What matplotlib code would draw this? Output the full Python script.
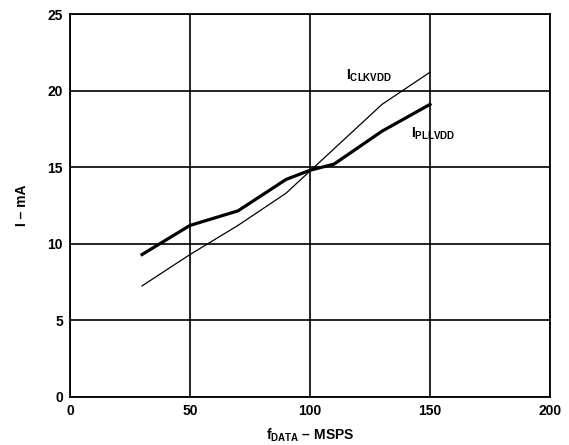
import matplotlib
matplotlib.use("Agg")
import matplotlib.pyplot as plt

plt.rcParams['font.family'] = ['Liberation Sans', 'DejaVu Sans']
plt.rcParams['font.weight'] = 'bold'
plt.rcParams['axes.labelweight'] = 'bold'
plt.rcParams['mathtext.fontset'] = 'custom'
plt.rcParams['mathtext.rm'] = 'Liberation Sans:bold'
plt.rcParams['mathtext.it'] = 'Liberation Sans:bold'
plt.rcParams['mathtext.bf'] = 'Liberation Sans:bold'
plt.rcParams['mathtext.sf'] = 'Liberation Sans:bold'

# data
f_pll = [30, 50, 70, 90, 100, 110, 130, 150]
i_pll = [9.3, 11.2, 12.15, 14.2, 14.8, 15.2, 17.35, 19.1]
f_clk = [30, 50, 70, 90, 110, 130, 150]
i_clk = [7.25, 9.3, 11.2, 13.3, 16.2, 19.1, 21.2]

fig = plt.figure(figsize=(5.69, 4.45), dpi=100)
ax = fig.add_axes([70 / 569, 48 / 445, 480 / 569, 383 / 445])

ax.plot(f_clk, i_clk, color='black', linewidth=0.9)
ax.plot(f_pll, i_pll, color='black', linewidth=2.3)

ax.set_xlim(0, 200)
ax.set_ylim(0, 25)
ax.set_xticks([0, 50, 100, 150, 200])
ax.set_yticks([0, 5, 10, 15, 20, 25])
ax.grid(True, color='black', linewidth=1.2)
for s in ax.spines.values():
    s.set_linewidth(1.3)
ax.tick_params(length=0, labelsize=10, pad=5)

ax.text(115, 20.7, r"I$_{\mathrm{CLKVDD}}$", fontsize=10)
ax.text(142, 16.9, r"I$_{\mathrm{PLLVDD}}$", fontsize=10)

ax.set_xlabel(r"f$_{\mathrm{DATA}}$ – MSPS", fontsize=10, labelpad=6)
ax.set_ylabel("I – mA", fontsize=10, labelpad=13)

plt.savefig("out.png", dpi=100)
